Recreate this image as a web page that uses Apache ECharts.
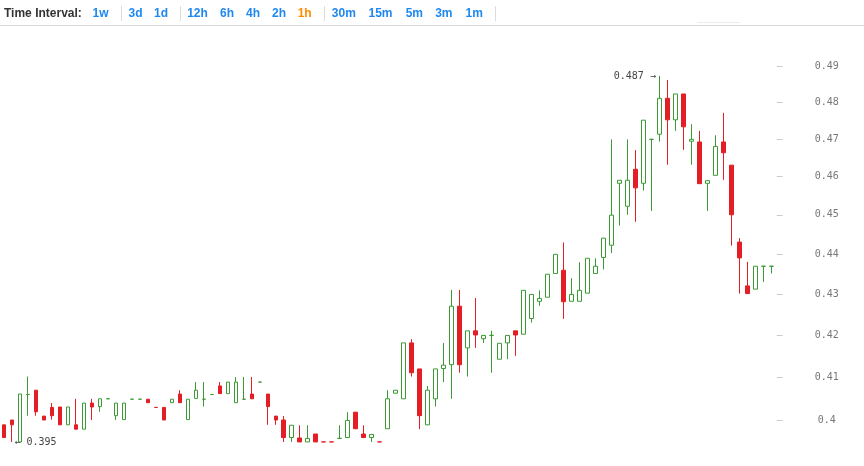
<!DOCTYPE html>
<html>
<head>
<meta charset="utf-8">
<script src="https://cdn.jsdelivr.net/npm/echarts@6/dist/echarts.min.js"></script>
<style>
html,body{margin:0;padding:0;background:#fff;}
#chart{width:864px;height:466px;}
</style>
</head>
<body>
<div id="chart"></div>
<script>
// ---- data ----
var opens = [
  0.3989,0.4000,0.3950,0.4059,0.4069,0.4009,0.4029,0.4030,0.3989,0.3989,
  0.3979,0.4039,0.4031,0.4049,0.4010,0.4001,0.4048,0.4048,0.4048,0.40291,
  0.4029,0.4040,0.4060,0.4001,0.4050,0.4048,0.4059,0.4079,0.4061,0.4040,
  0.4048,0.4060,0.4088,0.4060,0.4009,0.4000,0.3960,0.3959,0.3950,0.3968,
  0.39501,0.39501,0.3958,0.3960,0.4018,0.3968,0.3960,0.39501,0.3980,0.4062,
  0.4049,0.4181,0.4119,0.3989,0.4049,0.4120,0.4129,0.4270,0.4169,0.4210,
  0.4191,0.4199,0.4142,0.4181,0.4210,0.4202,0.4240,0.4282,0.4292,0.4351,
  0.4359,0.4282,0.4282,0.4302,0.4351,0.4391,0.4422,0.4582,0.4522,0.4619,
  0.4582,0.4699,0.4713,0.4811,0.4752,0.4823,0.4694,0.4692,0.4582,0.4603,
  0.4692,0.4630,0.4430,0.4320,0.4312,0.4369,0.4369
];
var closes = [
  0.3960,0.3989,0.4060,0.40591,0.4019,0.4000,0.4010,0.3989,0.4030,0.3979,
  0.4039,0.4030,0.4049,0.40491,0.4039,0.4039,0.40481,0.40481,0.4040,0.4029,
  0.4000,0.4048,0.4040,0.4048,0.4069,0.40481,0.40591,0.4061,0.4088,0.4088,
  0.40481,0.4049,0.40881,0.4031,0.4000,0.3960,0.3988,0.3950,0.3958,0.3950,
  0.3950,0.3950,0.39581,0.3999,0.3980,0.3960,0.3967,0.3950,0.4049,0.4069,
  0.4181,0.4110,0.4010,0.4069,0.4119,0.4128,0.4270,0.4129,0.4210,0.4200,
  0.4199,0.41991,0.4180,0.4199,0.4200,0.4309,0.4299,0.4289,0.4349,0.4399,
  0.4281,0.4299,0.4309,0.4389,0.4369,0.4440,0.4499,0.4590,0.4590,0.4570,
  0.4751,0.46991,0.4811,0.4752,0.4823,0.4733,0.4699,0.4581,0.4589,0.4680,
  0.4663,0.4500,0.4390,0.4301,0.4369,0.43691,0.43691
];
var lows = [
  0.3960,0.3950,0.3950,0.4010,0.4010,0.4000,0.4001,0.3989,0.3989,0.3979,
  0.3979,0.4000,0.4019,0.4049,0.4000,0.4001,0.4048,0.4048,0.4040,0.4029,
  0.4000,0.4040,0.4040,0.4001,0.4050,0.4031,0.4059,0.4061,0.4061,0.4040,
  0.4048,0.4049,0.4088,0.3989,0.3989,0.3950,0.3950,0.3950,0.3950,0.3950,
  0.3950,0.3950,0.3958,0.3960,0.3980,0.3960,0.3950,0.3950,0.3980,0.4062,
  0.4049,0.4101,0.3979,0.3989,0.4031,0.4088,0.4049,0.4110,0.4101,0.4169,
  0.4181,0.4110,0.4142,0.4142,0.4150,0.4202,0.4230,0.4271,0.4292,0.4351,
  0.4239,0.4282,0.4282,0.4302,0.4351,0.4361,0.4402,0.4472,0.4500,0.4482,
  0.4563,0.4510,0.4693,0.4631,0.4722,0.4671,0.4631,0.4581,0.4510,0.4603,
  0.4591,0.4421,0.4301,0.4301,0.4312,0.4330,0.4351
];
var highs = [
  0.3989,0.4000,0.4060,0.4101,0.4069,0.4009,0.4039,0.4030,0.4030,0.4049,
  0.4039,0.4049,0.4049,0.40491,0.4039,0.4039,0.40481,0.40481,0.4048,0.40291,
  0.4029,0.4048,0.4069,0.4048,0.4088,0.4088,0.40591,0.4088,0.4088,0.4100,
  0.4100,0.4100,0.40881,0.4060,0.4009,0.4009,0.3988,0.3988,0.3988,0.3968,
  0.39501,0.39501,0.3988,0.4018,0.4018,0.3988,0.3967,0.39501,0.4069,0.4069,
  0.4181,0.4190,0.4119,0.4079,0.4119,0.4181,0.4310,0.4310,0.4210,0.4290,
  0.4199,0.4210,0.4180,0.4199,0.4210,0.4309,0.4299,0.4309,0.4349,0.4399,
  0.4429,0.4339,0.4379,0.4389,0.4389,0.4440,0.4699,0.4590,0.4699,0.4670,
  0.4751,0.46991,0.4873,0.4862,0.4823,0.4823,0.4740,0.4722,0.4589,0.4710,
  0.4771,0.4630,0.4440,0.4380,0.4369,0.43691,0.43691
];
var yTicks = [0.40, 0.41, 0.42, 0.43, 0.44, 0.45, 0.46, 0.47, 0.48, 0.49];
var intervals = ['1w','3d','1d','12h','6h','4h','2h','1h','30m','15m','5m','3m','1m'];
var activeInterval = '1h';

// ---- layout / style (not data) ----
var intervalX = [100.5,135.5,161,197.5,227,253,279,304.7,343.8,380.5,414.3,443.8,474.2];
var sepX = [121.5,180.5,324.5,495.5];
var UP = '#3a9a33', DOWN = '#e31e24';

var categories = opens.map(function(_, i){ return String(i + 1); });
var ohlc = opens.map(function(o, i){ return [o, closes[i], lows[i], highs[i]]; });

var graphics = [];
graphics.push({type:'text', x:4, y:13.5, style:{text:'Time Interval:', font:'bold 12px "Liberation Sans", Arial, sans-serif', fill:'#333', verticalAlign:'middle', align:'left'}});
intervals.forEach(function(t, i){
  graphics.push({type:'text', x:intervalX[i], y:13.5, style:{text:t, font:'bold 12px "Liberation Sans", Arial, sans-serif', fill: t === activeInterval ? '#ff8c00' : '#1e88f0', verticalAlign:'middle', align:'center'}});
});
sepX.forEach(function(x){
  graphics.push({type:'line', shape:{x1:x, y1:6, x2:x, y2:21}, style:{stroke:'#dcdcdc', lineWidth:1}});
});
graphics.push({type:'line', shape:{x1:0, y1:25.5, x2:864, y2:25.5}, style:{stroke:'#d8d8d8', lineWidth:1}});
graphics.push({type:'line', shape:{x1:697, y1:22.5, x2:740, y2:22.5}, style:{stroke:'#ececec', lineWidth:1}});

var chart = echarts.init(document.getElementById('chart'), null, {renderer:'canvas'});
chart.setOption({
  animation: false,
  backgroundColor: '#fff',
  graphic: graphics,
  grid: {left: -0.7, right: 88.7, top: 40, bottom: 16},
  xAxis: {
    type: 'category',
    data: categories,
    boundaryGap: true,
    axisLine: {show: false},
    axisTick: {show: false},
    axisLabel: {show: false},
    splitLine: {show: false}
  },
  yAxis: {
    type: 'log',
    logBase: 10,
    position: 'right',
    min: 0.393176,
    max: 0.49747,
    offset: 1.4,
    axisLine: {show: false},
    axisTick: {show: true, length: 6, lineStyle: {color: '#cccccc'}, customValues: yTicks},
    axisLabel: {
      customValues: yTicks,
      align: 'center',
      margin: 50,
      color: '#777',
      fontFamily: '"DejaVu Sans Mono", monospace',
      fontSize: 10,
      formatter: function(v){ return String(+(+v).toFixed(2)); }
    },
    splitLine: {show: false}
  },
  series: [{
    type: 'candlestick',
    data: ohlc,
    barWidth: 4,
    itemStyle: {
      color: '#ffffff',
      color0: DOWN,
      borderColor: UP,
      borderColor0: DOWN,
      borderWidth: 1
    },
    markPoint: {
      symbol: 'circle',
      symbolSize: 1,
      itemStyle: {color: 'rgba(0,0,0,0)'},
      label: {
        color: '#444',
        fontFamily: '"DejaVu Sans Mono", monospace',
        fontSize: 10
      },
      data: [
        {type: 'max', valueDim: 'highest', label: {position: 'left', distance: 3, formatter: function(p){ return p.value.toFixed(3) + ' \u2192'; }}},
        {type: 'min', valueDim: 'lowest', label: {position: 'right', distance: 2, formatter: function(p){ return '\u2190 ' + p.value.toFixed(3); }}}
      ]
    }
  }]
});
</script>
</body>
</html>
